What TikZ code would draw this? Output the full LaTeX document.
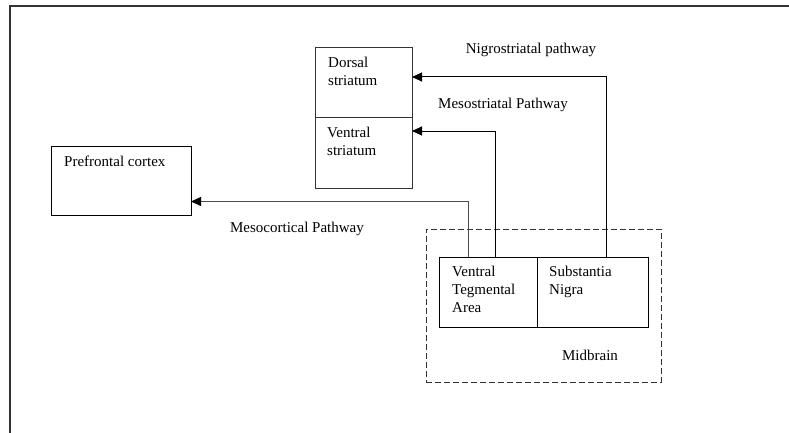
\documentclass[tikz,border=0pt]{standalone}
\usepackage{fontspec}
\setmainfont{Liberation Serif}
\usetikzlibrary{arrows.meta, positioning}

\begin{document}
\begin{tikzpicture}[
    x=1pt, y=-1pt,
    node distance=0pt,
    every node/.style={font=\fontsize{15}{18}\selectfont},
    area/.style={draw=black!80, line width=1pt, minimum width=97pt, minimum height=70pt, inner sep=0pt, outer sep=0pt, anchor=north west},
    txt/.style={align=left, inner sep=0pt, anchor=north west},
    arrow/.style={-{Triangle[length=10pt, width=9pt, black]}, line width=1pt}
]
    \useasboundingbox (0,0) rectangle (789,433);

    % Page frame
    \draw[line width=1.5pt, black!80] (10,433) |- (789,6);

    % Striatum (dorsal above ventral)
    \node[area] (dorsal) at (315,48) {};
    \node[area, below=of dorsal] (ventral) {};
    \node[txt] (dorsaltxt) at ([xshift=13pt, yshift=-9pt]dorsal.north west) {Dorsal\\striatum};
    \node[txt] (ventraltxt) at ([xshift=12pt, yshift=-9pt]ventral.north west) {Ventral\\striatum};

    % Prefrontal cortex
    \node[area, draw=black, minimum width=140pt, minimum height=69pt] (prefrontal) at (51,146) {};
    \node[txt] (prefrontaltxt) at ([xshift=13pt, yshift=-10pt]prefrontal.north west) {Prefrontal cortex};

    % Midbrain with VTA and substantia nigra
    \node[area, dashed, dash pattern=on 6pt off 3pt, minimum width=235pt, minimum height=153pt] (midbrain) at (426,229) {};
    \node[area, draw=black, minimum width=98pt] (vta) at (439,257) {};
    \node[area, draw=black, minimum width=111pt, right=of vta] (sn) {};
    \node[txt] (vtatxt) at ([xshift=13pt, yshift=-9pt]vta.north west) {Ventral\\Tegmental\\Area};
    \node[txt] (sntxt) at ([xshift=12pt, yshift=-9pt]sn.north west) {Substantia\\Nigra};
    \node[inner sep=0pt] (midbraintxt) at (590,355) {Midbrain};

    % Pathway labels
    \node[inner sep=0pt] (nigro) at (531,50) {Nigrostriatal pathway};
    \node[inner sep=0pt] (meso) at (503,105) {Mesostriatal Pathway};
    \node[inner sep=0pt] (cortical) at (297,229) {Mesocortical Pathway};

    % Pathways
    \draw[arrow] ([xshift=69pt]sn.north west) |- ([yshift=6pt]dorsal.east);
    \draw[arrow] ([xshift=56pt]vta.north west) |- ([yshift=22pt]ventral.east);
    \draw[arrow, draw=black!70] ([xshift=29pt]vta.north west) |- ([yshift=-21pt]prefrontal.east);

\end{tikzpicture}
\end{document}
